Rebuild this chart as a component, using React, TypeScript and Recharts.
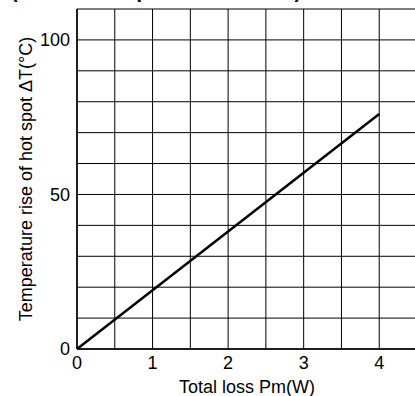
import React from 'react';
import { LineChart, Line, XAxis, YAxis, CartesianGrid, Label } from 'recharts';

const lossW = [0, 4];
const riseC = [0, 76];

const xTicks = [0, 0.5, 1, 1.5, 2, 2.5, 3, 3.5, 4, 4.5];
const yTicks = [0, 10, 20, 30, 40, 50, 60, 70, 80, 90, 100, 110];
const xLabelled = [0, 1, 2, 3, 4];
const yLabelled = [0, 50, 100];

const data = lossW.map((x, i) => ({ x, y: riseC[i] }));

const font = '"Liberation Sans", Arial, Helvetica, sans-serif';
const tickStyle = { fill: '#000', fontSize: 18, fontFamily: font };

export default function App() {
  return (
    <div
      style={{
        position: 'fixed',
        top: 0,
        left: 0,
        width: 415,
        height: 396,
        overflow: 'hidden',
        background: '#fff',
      }}
    >
      {/* title is cut off by the top edge in the reference */}
      <div
        style={{
          position: 'absolute',
          top: -21,
          left: 11,
          fontFamily: font,
          fontWeight: 'bold',
          fontSize: 20,
          lineHeight: '24px',
          whiteSpace: 'nowrap',
          color: '#000',
        }}
      >
        (Rise at hot spot vs. total loss)
      </div>
      <LineChart
        width={420}
        height={396}
        data={data}
        margin={{ top: 9, right: 3, bottom: 0, left: 0 }}
      >
        <CartesianGrid stroke="#000" strokeWidth={1} />
        <XAxis
          dataKey="x"
          type="number"
          domain={[0, 4.5]}
          ticks={xTicks}
          interval={0}
          height={47}
          tickLine={false}
          tickSize={6}
          tickMargin={1}
          axisLine={{ stroke: '#000', strokeWidth: 1.5 }}
          tick={tickStyle}
          tickFormatter={(v: number) => (xLabelled.includes(v) ? String(v) : '')}
        >
          <Label
            value="Total loss Pm(W)"
            position="insideBottom"
            offset={3}
            style={{ fill: '#000', fontSize: 18, fontFamily: font }}
          />
        </XAxis>
        <YAxis
          type="number"
          domain={[0, 110]}
          ticks={yTicks}
          interval={0}
          width={77}
          tickLine={false}
          tickSize={6}
          tickMargin={1}
          axisLine={{ stroke: '#000', strokeWidth: 1.5 }}
          tick={tickStyle}
          tickFormatter={(v: number) => (yLabelled.includes(v) ? String(v) : '')}
        >
          <Label
            value="Temperature rise of hot spot ΔT(°C)"
            angle={-90}
            position="center"
            dx={-13}
            dy={0}
            style={{ fill: '#000', fontSize: 18, fontFamily: font }}
          />
        </YAxis>
        <Line
          dataKey="y"
          stroke="#000"
          strokeWidth={2.5}
          dot={false}
          isAnimationActive={false}
        />
      </LineChart>
    </div>
  );
}
